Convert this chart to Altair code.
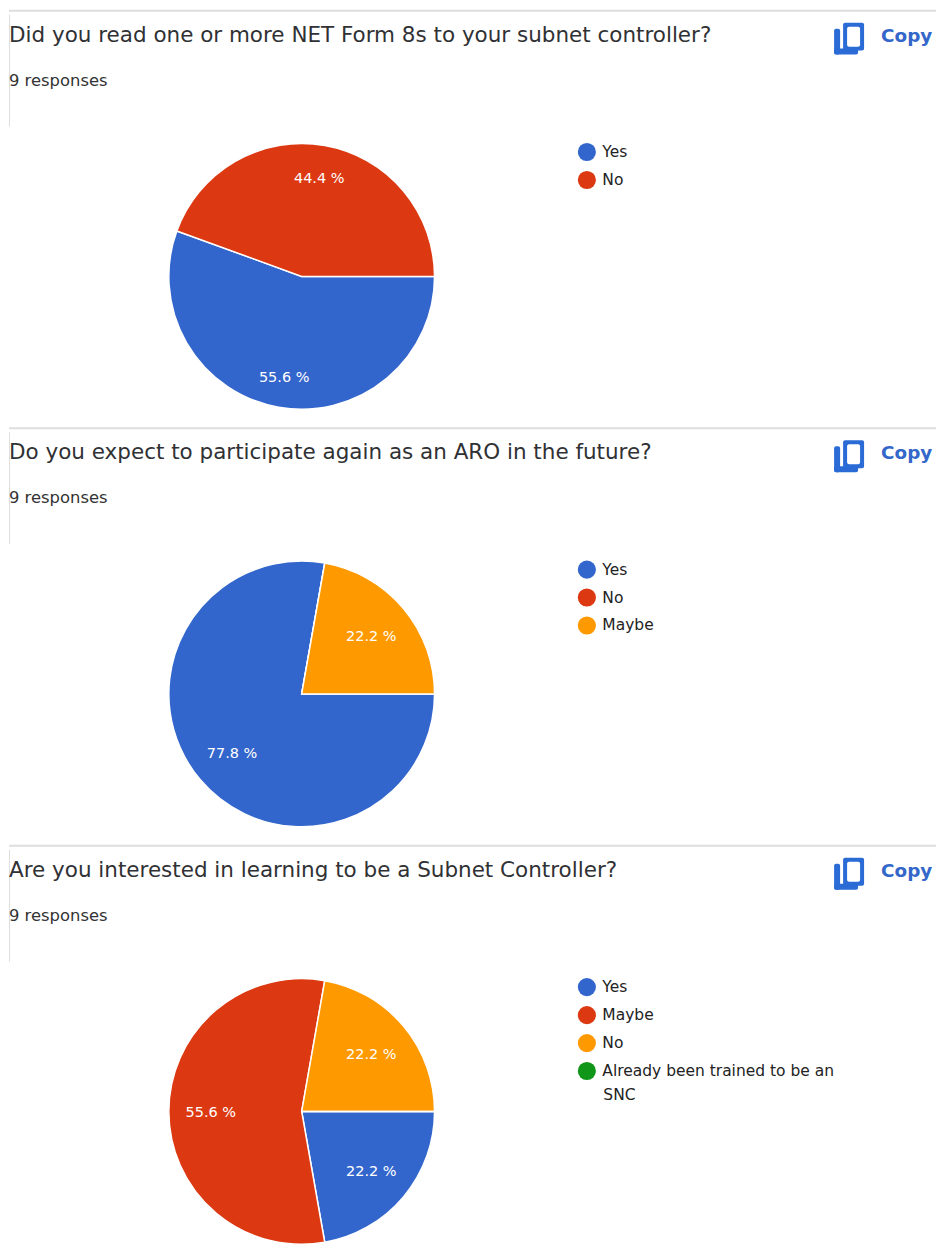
import altair as alt
import pandas as pd

titles = ["Did you read one or more NET Form 8s to your subnet controller?",
          "Do you expect to participate again as an ARO in the future?",
          "Are you interested in learning to be a Subnet Controller?"]
responses = "9 responses"
cats1 = ["Yes", "No"]
vals1 = [5, 4]
labs1 = ["55.6 %", "44.4 %"]
cats2 = ["Yes", "No", "Maybe"]
vals2 = [7, 0, 2]
labs2 = ["77.8 %", "", "22.2 %"]
cats3 = ["Yes", "Maybe", "No", "Already been trained to be an SNC"]
vals3 = [2, 5, 2, 0]
labs3 = ["22.2 %", "55.6 %", "22.2 %", ""]
cols1 = ["#3366cc", "#dc3912"]
cols2 = ["#3366cc", "#dc3912", "#ff9900"]
cols3 = ["#3366cc", "#dc3912", "#ff9900", "#109618"]

FONT = "DejaVu Sans"
W, CX, CY, R = 928, 293, 268, 133
BLUE = "#2a6bd6"


def text(s, x, y, size, color, font=FONT, weight="normal"):
    return alt.Chart(pd.DataFrame({"t": [s]})).mark_text(
        align="left", baseline="middle", font=font, fontSize=size, color=color, fontWeight=weight
    ).encode(x=alt.value(x), y=alt.value(y), text="t:N")


def box(x, x2, y, y2, color):
    return alt.Chart(pd.DataFrame({"a": [0]})).mark_rect(color=color, cornerRadius=2).encode(
        x=alt.value(x), x2=alt.value(x2), y=alt.value(y), y2=alt.value(y2))


def panel(title, cats, vals, labs, cols, h, label_radius, extra=()):
    df = pd.DataFrame({"c": cats, "v": vals, "l": labs, "o": range(len(cats))})
    theta = alt.Theta("v:Q", stack=True,
                      scale=alt.Scale(domain=[0, 9], range=[1.5707963, 7.8539816]))
    arcs = alt.Chart(df).mark_arc(radius=R, stroke="white", strokeWidth=1.5).encode(
        x=alt.value(CX), y=alt.value(CY), theta=theta,
        color=alt.Color("c:N", sort=cats,
                        scale=alt.Scale(domain=cats, range=cols),
                        legend=alt.Legend(
                            title=None, orient="none", legendX=569, legendY=134,
                            symbolType="circle", symbolSize=330, symbolStrokeWidth=0,
                            labelFont=FONT, labelFontSize=15.5, labelColor="#222222",
                            labelOffset=6, rowPadding=9, padding=0, labelLimit=300,
                            labelExpr="datum.label == 'Already been trained to be an SNC' ? "
                                      "'Already been trained to be an' : datum.label",
                            labelBaseline="middle",
                            values=cats)),
        order=alt.Order("o:Q"))
    labels = alt.Chart(df).mark_text(radius=label_radius, font=FONT, fontSize=14.5, color="white").encode(
        x=alt.value(CX), y=alt.value(CY + 2), theta=theta, text="l:N", order=alt.Order("o:Q"))
    top = alt.Chart(pd.DataFrame({"a": [0]})).mark_rule(color="#dedede", strokeWidth=2).encode(
        x=alt.value(0), x2=alt.value(W), y=alt.value(2))
    left = alt.Chart(pd.DataFrame({"a": [0]})).mark_rule(color="#dedede", strokeWidth=1).encode(
        x=alt.value(0.5), y=alt.value(6), y2=alt.value(118))
    return alt.layer(top, left, arcs, labels,
                     box(826, 832, 20, 46, BLUE), box(826, 850, 40, 46, BLUE),
                     box(835, 856, 14, 42, BLUE), box(839, 852, 18, 38, "white"),
                     text(title, 0, 27, 21.5, "#303134"),
                     text(responses, 0, 72, 16.4, "#333333"),
                     text("Copy", 873, 27, 18.4, "#3367c9", weight="bold"),
                     *extra,
                     ).properties(width=W, height=h)


chart = alt.vconcat(
    panel(titles[0], cats1, vals1, labs1, cols1, 418, 101),
    panel(titles[1], cats2, vals2, labs2, cols2, 418, 91),
    panel(titles[2], cats3, vals3, labs3, cols3, 398, 91,
          extra=[text("SNC", 595, 252, 15.5, "#222222")]),
    spacing=0, bounds="flush", padding=0,
).resolve_scale(color="independent", theta="independent").configure(background="white").configure_view(stroke=None)

chart.save("out.html", embed_options={"renderer": "svg", "actions": False})
